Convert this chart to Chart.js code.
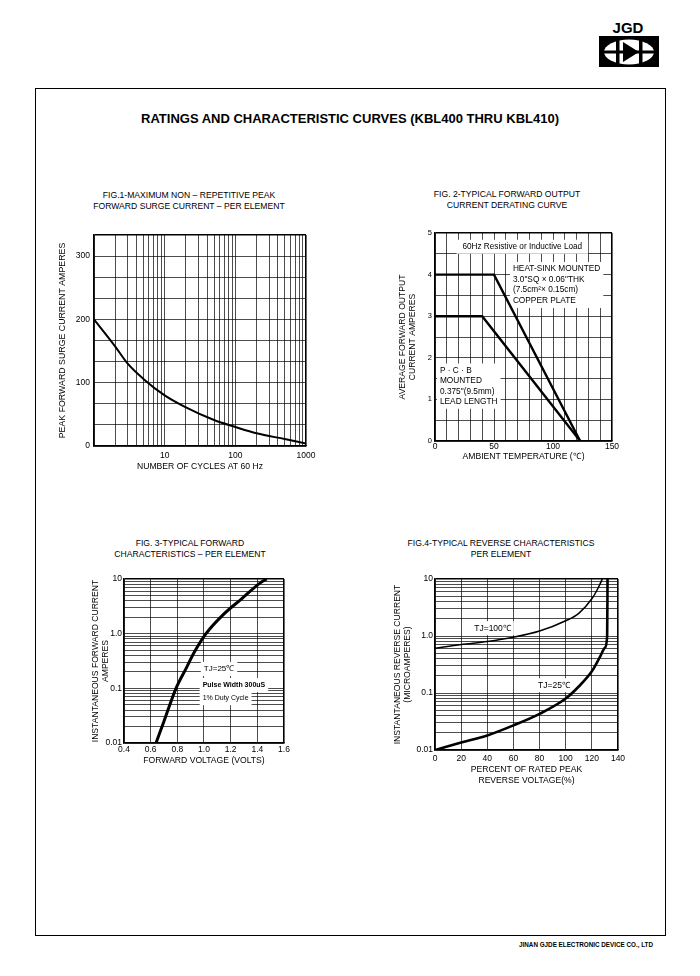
<!DOCTYPE html>
<html>
<head>
<meta charset="utf-8">
<script src="https://cdn.jsdelivr.net/npm/chart.js@4.4.1/dist/chart.umd.min.js"></script>
<style>
  body { margin:0; background:#fff; }
  #page { position:relative; width:700px; height:976px; overflow:hidden;
          font-family:'Liberation Sans', Arial, sans-serif; color:#000; }
  .t { position:absolute; white-space:nowrap; transform:translate(-50%,-50%); text-align:center; }
  .fig { font-size:8.6px; line-height:11px; }
  canvas { position:absolute; }
</style>
</head>
<body>
<div id="page">
  <!-- logo -->
  <svg style="position:absolute;left:0;top:0" width="700" height="80">
    <text x="628" y="33" font-family="Liberation Sans, Arial" font-weight="bold" font-size="15" text-anchor="middle">JGD</text>
    <rect x="599" y="36" width="60" height="31" fill="#000"/>
    <ellipse cx="629" cy="52" rx="25" ry="12.5" fill="#fff"/>
    <rect x="604" y="50.5" width="50" height="3" fill="#000"/>
    <rect x="616" y="40" width="3.5" height="24" fill="#000"/>
    <polygon points="623,42 623,62 639,52" fill="#000"/>
    <rect x="639" y="40" width="3.5" height="24" fill="#000"/>
  </svg>

  <div style="position:absolute;left:35px;top:88px;width:629px;height:846px;border:1.3px solid #000;"></div>

  <div class="t" style="left:350px;top:118px;font-weight:bold;font-size:13px;">RATINGS AND CHARACTERISTIC CURVES (KBL400 THRU KBL410)</div>

  <div class="t fig" style="left:189px;top:201px;">FIG.1-MAXIMUM NON – REPETITIVE PEAK<br>FORWARD SURGE CURRENT – PER ELEMENT</div>
  <div class="t fig" style="left:507px;top:200px;">FIG. 2-TYPICAL FORWARD OUTPUT<br>CURRENT DERATING CURVE</div>
  <div class="t fig" style="left:190px;top:549px;">FIG. 3-TYPICAL FORWARD<br>CHARACTERISTICS – PER ELEMENT</div>
  <div class="t fig" style="left:501px;top:549px;">FIG.4-TYPICAL REVERSE CHARACTERISTICS<br>PER ELEMENT</div>

  <canvas id="surge"></canvas>
  <canvas id="derate"></canvas>
  <canvas id="forward"></canvas>
  <canvas id="reverse"></canvas>

  <div class="t" style="left:586px;top:944px;font-size:6.3px;font-weight:bold;">JINAN GJDE ELECTRONIC DEVICE CO., LTD</div>
</div>

<script>
// Fig.1 surge current vs cycles
const surgeCycles = [1, 2, 3, 5, 10, 20, 50, 100, 200, 500, 1000];
const surgeAmps   = [200, 157, 130, 106, 80, 61, 41, 30, 20, 11, 4];
const surgeXTicks = ['10', '100', '1000'];
const surgeYTicks = ['0', '100', '200', '300'];

// Fig.2 derating
const heatSinkTemp = [0, 50, 123];
const heatSinkAmps = [4, 4, 0];
const pcbTemp      = [0, 40, 123];
const pcbAmps      = [3, 3, 0];
const derateXTicks = ['0', '50', '100', '150'];
const derateYTicks = ['0', '1', '2', '3', '4', '5'];

// Fig.3 forward characteristics
const fwdVolts = [0.64, 0.7, 0.79, 0.865, 0.93, 1.015, 1.15, 1.28, 1.42, 1.47];
const fwdAmps  = [0.01, 0.025, 0.1, 0.23, 0.47, 1.0, 2.3, 4.3, 8.4, 10];
const fwdXTicks = ['0.4', '0.6', '0.8', '1.0', '1.2', '1.4', '1.6'];
const logYTicks = ['0.01', '0.1', '1.0', '10'];

// Fig.4 reverse characteristics
const rev100Pct = [0, 20, 40, 60, 80, 100, 110, 120, 125, 128];
const rev100Cur = [0.61, 0.71, 0.8, 0.95, 1.22, 1.85, 2.5, 4.5, 7.1, 10];
const rev25Pct  = [0, 20, 40, 60, 80, 100, 110, 120, 126, 130, 131.7, 132];
const rev25Cur  = [0.01, 0.0135, 0.018, 0.027, 0.043, 0.08, 0.13, 0.24, 0.42, 0.62, 1.0, 10];
const revXTicks = ['0', '20', '40', '60', '80', '100', '120', '140'];

Chart.defaults.font.family = "'Liberation Sans', Arial, sans-serif";
Chart.defaults.color = '#000';

function steps(min, max, step) {
  const a = [];
  for (let i = 0; min + i * step <= max + 1e-9; i++) a.push(+(min + i * step).toFixed(6));
  return a;
}
function logSteps(min, max) {
  const a = [];
  for (let e = Math.round(Math.log10(min)); Math.pow(10, e) <= max * 1.0001; e++)
    for (let m = 1; m < 10; m++) {
      const v = +(m * Math.pow(10, e)).toPrecision(6);
      if (v >= min * 0.9999 && v <= max * 1.0001) a.push(v);
    }
  return a;
}
function labelFor(list, v) {
  return list.find(s => Math.abs(Number(s) - v) <= 1e-6 * Math.max(1, Math.abs(v))) || '';
}
function line(xs, ys, w, smooth) {
  return { data: xs.map((x, i) => ({ x, y: ys[i] })), borderColor: '#000', borderWidth: w,
           pointRadius: 0, fill: false,
           cubicInterpolationMode: smooth ? 'monotone' : 'default', tension: 0 };
}

function axis(a, dir) {
  return {
    type: a.log ? 'logarithmic' : 'linear',
    min: a.min, max: a.max,
    afterBuildTicks: s => { s.ticks = a.grid.map(v => ({ value: v })); },
    afterFit: s => { if (dir === 'x') s.height = a.size; else s.width = a.size; },
    grid: {
      color: '#000', drawTicks: false,
      lineWidth: c => (c.tick && Math.abs(c.tick.value - a.max) < 1e-3 * a.max) ? 1.6 : 0.7
    },
    border: { color: '#000', width: 1.6 },
    ticks: { autoSkip: false, maxRotation: 0, padding: a.pad, font: { size: a.fs || 8.5 },
             color: '#000', callback: v => labelFor(a.labels, v) },
    title: { display: true, text: a.title, color: '#000',
             font: { size: a.tfs || 8.6, lineHeight: a.lh || 1.2 }, padding: { top: 0, bottom: 0 } }
  };
}

function notes(items) {
  return {
    id: 'notes',
    beforeDatasetsDraw(chart) {
      const c = chart.ctx, xs = chart.scales.x, ys = chart.scales.y;
      items.forEach(n => {
        const px = xs.getPixelForValue(n.x), py = ys.getPixelForValue(n.y);
        const lh = n.lh || 10;
        c.save();
        c.font = (n.bold ? 'bold ' : '') + (n.size || 8) + "px 'Liberation Sans', Arial, sans-serif";
        c.textBaseline = 'middle';
        c.textAlign = n.align || 'left';
        const w = Math.max(...n.text.map(t => c.measureText(t).width));
        const x0 = n.align === 'center' ? px - w / 2 : px;
        c.fillStyle = '#fff';
        c.fillRect(x0 - (n.padX || 3), py - lh / 2 - 2, w + 2 * (n.padX || 3), lh * n.text.length + 4);
        c.fillStyle = '#000';
        n.text.forEach((t, i) => c.fillText(t, px, py + i * lh));
        c.restore();
      });
    }
  };
}

function plot(id, box, sets, xa, ya, items) {
  const cv = document.getElementById(id);
  cv.width = box.w; cv.height = box.h;
  cv.style.left = box.x + 'px'; cv.style.top = box.y + 'px';
  cv.style.width = box.w + 'px'; cv.style.height = box.h + 'px';
  return new Chart(cv, {
    type: 'line',
    data: { datasets: sets },
    options: {
      responsive: false, animation: false, events: [],
      layout: { padding: { top: 12, right: 16, left: 0, bottom: 0 } },
      plugins: { legend: { display: false }, tooltip: { enabled: false } },
      scales: { x: axis(xa, 'x'), y: axis(ya, 'y') }
    },
    plugins: [notes(items || [])]
  });
}

// Fig.1
plot('surge', { x: 57, y: 223, w: 265, h: 249 },
  [line(surgeCycles, surgeAmps, 2, true)],
  { log: true, min: 1, max: 1000, grid: logSteps(1, 1000), labels: surgeXTicks, size: 26, pad: 5,
    title: 'NUMBER OF CYCLES AT 60 Hz' },
  { min: 0, max: 1000 / 3, grid: steps(0, 1000 / 3, 100 / 3), labels: surgeYTicks, size: 37, pad: 4,
    title: 'PEAK FORWARD SURGE CURRENT AMPERES', tfs: 8.8 });

// Fig.2
plot('derate', { x: 397, y: 221, w: 231, h: 241 },
  [line(heatSinkTemp, heatSinkAmps, 2.4, false), line(pcbTemp, pcbAmps, 2.4, false)],
  { min: 0, max: 150, grid: steps(0, 150, 10), labels: derateXTicks, size: 21, pad: 1,
    title: 'AMBIENT TEMPERATURE (℃)' },
  { min: 0, max: 5, grid: steps(0, 5, 0.5), labels: derateYTicks, size: 38, pad: 3, fs: 7.5,
    title: ['AVERAGE FORWARD OUTPUT', 'CURRENT AMPERES'] },
  [
    { x: 74, y: 4.67, text: ['60Hz Resistive or Inductive Load'], align: 'center', size: 8.2, padX: 6 },
    { x: 66, y: 4.13, text: ['HEAT-SINK MOUNTED', '3.0"SQ × 0.06"THK', '(7.5cm²× 0.15cm)', 'COPPER PLATE'],
      size: 8.3, lh: 10.5 },
    { x: 4.2, y: 1.69, text: ['P · C · B', 'MOUNTED', '0.375"(9.5mm)', 'LEAD LENGTH'], size: 8.3, lh: 10.3 }
  ]);

// Fig.3
plot('forward', { x: 90, y: 567, w: 210, h: 199 },
  [line(fwdVolts, fwdAmps, 3, true)],
  { min: 0.4, max: 1.6, grid: steps(0.4, 1.6, 0.2), labels: fwdXTicks, size: 23, pad: 2,
    title: 'FORWARD VOLTAGE (VOLTS)' },
  { log: true, min: 0.01, max: 10, grid: logSteps(0.01, 10), labels: logYTicks, size: 34, pad: 2,
    title: ['INSTANTANEOUS FORWARD CURRENT', 'AMPERES'] },
  [
    { x: 1.113, y: 0.227, text: ['TJ=25℃'], align: 'center', size: 8 },
    { x: 0.99, y: 0.115, text: ['Pulse Width 300uS'], size: 7, bold: true },
    { x: 0.99, y: 0.066, text: ['1% Duty Cycle'], size: 7 }
  ]);

// Fig.4
plot('reverse', { x: 392, y: 567, w: 242, h: 219 },
  [line(rev100Pct, rev100Cur, 1.5, true), line(rev25Pct, rev25Cur, 2.6, true)],
  { min: 0, max: 140, grid: steps(0, 140, 20), labels: revXTicks, size: 36, pad: 4, lh: 1.3,
    title: ['PERCENT OF RATED PEAK', 'REVERSE VOLTAGE(%)'] },
  { log: true, min: 0.01, max: 10, grid: logSteps(0.01, 10), labels: logYTicks, size: 43, pad: 2,
    title: ['INSTANTANEOUS REVERSE CURRENT', '(MICROAMPERES)'] },
  [
    { x: 44, y: 1.37, text: ['TJ=100℃'], align: 'center', size: 8.5 },
    { x: 91, y: 0.137, text: ['TJ=25℃'], align: 'center', size: 8.5 }
  ]);
</script>
</body>
</html>
